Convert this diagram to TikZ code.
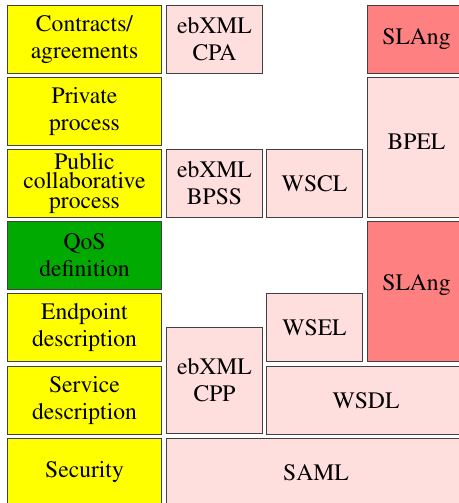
\documentclass[tikz,border=0pt]{standalone}
\usepackage[T1]{fontenc}
\usepackage{mathptmx}
\definecolor{layeryellow}{HTML}{FFFF00}
\definecolor{qosgreen}{HTML}{00AA00}
\definecolor{specpink}{HTML}{FFDEDE}
\definecolor{slared}{HTML}{FF8080}
\definecolor{boxline}{HTML}{404040}

\begin{document}
\begin{tikzpicture}[x=1pt,y=-1pt,
	cell/.style={draw=boxline,line width=1pt,anchor=north west,inner sep=0pt,align=center,font=\rmfamily\fontsize{23.6}{27}\selectfont},
	layer/.style={cell,fill=layeryellow,minimum width=154pt,minimum height=68pt},
	spec/.style={cell,fill=specpink},
	sla/.style={cell,fill=slared}]
	\useasboundingbox (0,0) rectangle (458,503);
	
	% layers
	\node[layer] (contracts) at (7,5) {Contracts/\\agreements};
	\node[layer] (private) at (7,77) {Private\\process};
	\node[layer,font=\rmfamily\fontsize{23.6}{19.5}\selectfont] (public) at (7,149) {Public\\collaborative\\process};
	\node[layer,fill=qosgreen] (qos) at (7,221) {QoS\\definition};
	\node[layer] (endpoint) at (7,293) {Endpoint\\description};
	\node[layer] (service) at (7,366) {Service\\description};
	\node[layer] (security) at (7,438) {Security};
	
	% ebXML
	\node[spec,minimum width=96pt,minimum height=68pt] (cpa) at (166,5) {ebXML\\CPA};
	\node[spec,minimum width=96pt,minimum height=68pt] (bpss) at (166,149) {ebXML\\BPSS};
	\node[spec,minimum width=96pt,minimum height=106pt] (cpp) at (166,327) {ebXML\\CPP};
	\node[spec,minimum width=299pt,minimum height=68pt] (saml) at (166,438) {SAML};
	
	% web services
	\node[spec,minimum width=96pt,minimum height=68pt] (wscl) at (266,149) {WSCL};
	\node[spec,minimum width=96pt,minimum height=68pt] (wsel) at (266,293) {WSEL};
	\node[spec,minimum width=199pt,minimum height=68pt] (wsdl) at (266,366) {WSDL};
	
	% SLAng / BPEL
	\node[sla,minimum width=98pt,minimum height=68pt] (slatop) at (367,5) {SLAng};
	\node[spec,minimum width=98pt,minimum height=140pt,text depth=12pt] (bpel) at (367,77) {BPEL};
	\node[sla,minimum width=98pt,minimum height=140pt,text depth=18pt] (slabottom) at (367,221) {SLAng};
\end{tikzpicture}
\end{document}
